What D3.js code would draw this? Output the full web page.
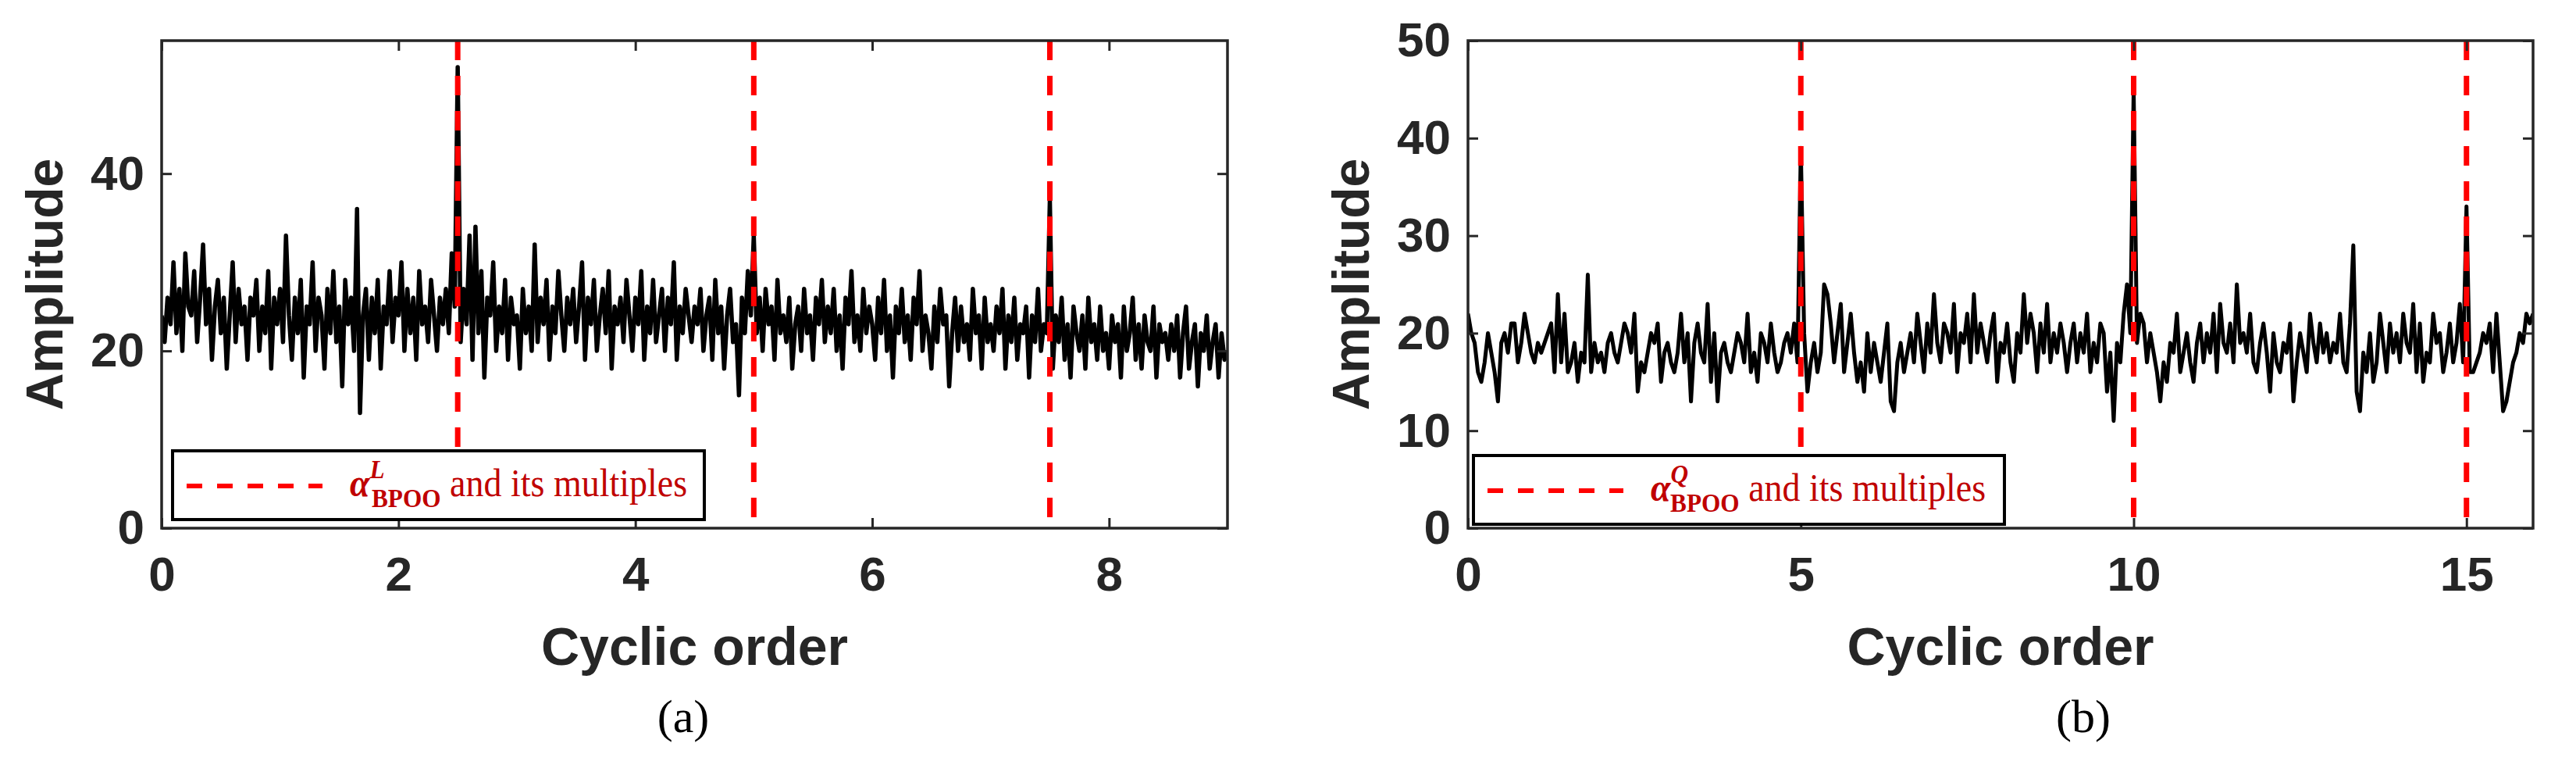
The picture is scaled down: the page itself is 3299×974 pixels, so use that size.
<!DOCTYPE html>
<html><head><meta charset="utf-8">
<script src="https://cdn.jsdelivr.net/npm/d3@7"></script>
<style>body{margin:0;background:#fff}</style></head>
<body><svg id="c" width="3299" height="974"></svg>
<script>
// Panel (a): cyclic order 0..9, step 0.025
const xMaxA = 9;
const valuesA = [
24,21,26,23,30,22,27,20,31,25,24,29,21,26,32,23,27,19,25,28,
22,26,18,24,30,21,27,23,25,19,26,24,28,20,25,22,29,18,26,23,
27,21,33,24,19,26,22,28,17,25,23,30,20,26,24,18,27,22,29,21,
25,16,28,23,26,20,36,13,24,27,19,26,22,28,18,25,23,29,21,26,
24,30,20,27,22,26,19,29,23,25,21,28,24,20,26,23,27,22,31,25,
52,21,27,23,33,19,34,22,29,17,26,24,30,20,25,22,28,19,26,23,
24,18,27,22,25,20,32,21,26,23,28,19,25,22,29,24,20,26,23,27,
21,25,30,19,26,23,28,20,24,27,22,29,18,25,23,26,21,28,24,20,
26,23,29,19,25,22,28,21,24,27,20,26,23,30,19,25,22,27,24,21,
25,23,27,20,24,26,19,28,22,25,18,24,27,21,23,15,26,22,29,24,
33,22,26,20,27,23,25,19,28,22,24,21,26,18,23,25,20,27,22,24,
19,26,23,28,21,25,22,27,20,24,18,26,23,29,21,24,20,27,22,25,
23,19,26,22,28,20,24,17,25,22,27,21,24,19,26,23,29,20,24,22,
18,25,21,27,23,24,16,22,26,20,25,21,23,19,27,22,24,18,26,21,
23,20,25,22,27,18,24,21,26,19,23,22,25,17,24,21,27,20,23,22,
37,18,24,21,26,19,23,17,25,22,20,24,18,26,21,23,19,25,20,22,
18,24,21,23,17,25,20,22,26,19,23,18,24,21,20,25,17,23,21,22,
19,23,20,24,17,22,25,18,21,23,16,22,20,24,18,21,23,17,22,19,
20];
const xTicksA = [0,2,4,6,8];
const yTicksA = [0,20,40];
const yMaxA = 55;
const markersA = [2.5,5,7.5];

// Panel (b): cyclic order 0..16, step 0.05
const xMaxB = 16;
const valuesB = [
22,20,19,16,15,17,20,18,16,13,19,20,18,21,21,17,19,22,20,18,
17,19,18,19,20,21,16,24,17,22,16,17,19,15,18,17,26,16,19,17,
18,16,19,20,18,17,19,21,20,18,22,14,17,16,18,20,19,21,15,18,
19,17,16,18,22,17,20,13,19,21,18,17,23,15,20,13,18,19,17,16,
18,20,19,17,22,16,18,15,20,19,17,21,18,16,17,19,20,18,21,17,
39,20,14,17,19,16,18,25,24,21,17,20,23,16,19,22,18,15,17,14,
20,16,19,17,15,18,21,13,12,17,19,16,18,20,17,22,19,16,21,18,
24,19,17,21,20,18,23,16,20,19,22,17,24,18,21,19,17,20,22,15,
19,18,21,17,15,20,18,24,19,22,20,16,21,18,23,17,20,18,21,19,
16,19,21,17,20,18,22,16,19,17,21,20,14,18,11,19,17,22,25,20,
45,19,22,21,17,20,18,16,13,17,15,19,18,22,16,18,20,17,15,19,
21,17,20,18,22,16,23,19,18,21,17,25,19,20,18,22,17,16,19,21,
18,14,20,17,16,19,18,21,13,17,20,18,16,22,19,17,21,18,20,17,
19,18,22,17,16,21,29,14,12,18,16,20,15,17,22,19,16,21,18,20,
17,22,19,18,23,16,21,15,18,17,22,19,20,16,18,21,17,19,23,17,
33,16,16,17,18,20,19,21,16,22,17,12,13,15,17,18,20,19,22,21,
22];
const xTicksB = [0,5,10,15];
const yTicksB = [0,10,20,30,40,50];
const yMaxB = 50;
const markersB = [5,10,15];

const svg = d3.select("#c");
const axisCol = "#262626";

function panel(o){
  const g = svg.append("g");
  const x = d3.scaleLinear().domain([0,o.xMax]).range([o.x0,o.x1]);
  const y = d3.scaleLinear().domain([0,o.yMax]).range([676,52]);
  const n = o.values.length;
  const pts = o.values.map((v,i)=>[i*o.xMax/(n-1), v]);
  const cid = "clip"+o.id;
  svg.append("clipPath").attr("id",cid).append("rect")
    .attr("x",o.x0).attr("y",52).attr("width",o.x1-o.x0).attr("height",624);
  g.append("path").datum(pts).attr("clip-path",`url(#${cid})`)
    .attr("d",d3.line().x(d=>x(d[0])).y(d=>y(d[1])))
    .attr("fill","none").attr("stroke","#000").attr("stroke-width",o.lw).attr("stroke-linejoin","round");
  g.selectAll(".mk").data(o.markers).join("line")
    .attr("x1",d=>x(d)).attr("x2",d=>x(d)).attr("y1",52).attr("y2",676)
    .attr("stroke","#ff0000").attr("stroke-width",7).attr("stroke-dasharray","25,20");
  const tl = 13;
  const ax = (sel)=>sel.call(s=>s.selectAll("text").attr("font-family","Liberation Sans, Arial").attr("font-weight","bold").attr("font-size",62).attr("fill",axisCol))
    .call(s=>s.selectAll("line").attr("stroke",axisCol).attr("stroke-width",3))
    .call(s=>s.select(".domain").remove());
  g.append("g").attr("transform","translate(0,676)")
    .call(d3.axisBottom(x).tickValues(o.xTicks).tickSize(-tl).tickPadding(36).tickFormat(d3.format("d"))).call(ax);
  g.append("g").attr("transform","translate(0,52)")
    .call(d3.axisTop(x).tickValues(o.xTicks).tickSize(-tl).tickFormat("")).call(ax);
  g.append("g").attr("transform",`translate(${o.x0},0)`)
    .call(d3.axisLeft(y).tickValues(o.yTicks).tickSize(-tl).tickPadding(22).tickFormat(d3.format("d"))).call(ax);
  g.append("g").attr("transform",`translate(${o.x1},0)`)
    .call(d3.axisRight(y).tickValues(o.yTicks).tickSize(-tl).tickFormat("")).call(ax);
  g.append("rect").attr("x",o.x0).attr("y",52).attr("width",o.x1-o.x0).attr("height",624)
    .attr("fill","none").attr("stroke",axisCol).attr("stroke-width",3.5);
  g.append("text").attr("x",(o.x0+o.x1)/2).attr("y",851).attr("text-anchor","middle")
    .attr("font-family","Liberation Sans, Arial").attr("font-weight","bold").attr("font-size",68).attr("fill",axisCol)
    .text("Cyclic order");
  g.append("text").attr("transform",`translate(${o.ylx},364) rotate(-90)`).attr("text-anchor","middle")
    .attr("font-family","Liberation Sans, Arial").attr("font-weight","bold").attr("font-size",66).attr("fill",axisCol)
    .text("Amplitude");
  g.append("text").attr("x",o.capX).attr("y",937).attr("text-anchor","middle")
    .attr("font-family","Liberation Serif, Times New Roman").attr("font-size",60).attr("fill","#000")
    .text(o.cap);
  const L = o.leg;
  g.append("rect").attr("x",L.x).attr("y",L.y).attr("width",L.w).attr("height",88)
    .attr("fill","#fff").attr("stroke","#000").attr("stroke-width",4);
  g.append("line").attr("x1",L.x+18).attr("x2",L.x+192).attr("y1",L.y+45).attr("y2",L.y+45)
    .attr("stroke","#ff0000").attr("stroke-width",6).attr("stroke-dasharray","20,19");
  const tx = L.x+227;
  const t = g.append("text").attr("x",0).attr("y",0)
    .attr("transform",`translate(${tx},${L.y+58}) scale(0.92,1)`)
    .attr("font-family","Liberation Serif, Times New Roman").attr("font-size",50).attr("fill","#c00000");
  t.append("tspan").attr("font-style","italic").attr("font-weight","bold").text("α");
  t.append("tspan").attr("font-style","italic").attr("font-weight","bold").attr("font-size",34).attr("dy",-23).text(o.sup);
  t.append("tspan").attr("font-weight","bold").attr("font-size",34).attr("dx",o.sup==="L"?-18:-25).attr("dy",37).text("BPOO");
  t.append("tspan").attr("dy",-14).text(" and its multiples");
}

panel({id:"a",x0:207,x1:1572,xMax:xMaxA,yMax:yMaxA,values:valuesA,xTicks:xTicksA,yTicks:yTicksA,markers:markersA,lw:5.5,
  ylx:80,capX:875,cap:"(a)",sup:"L",leg:{x:221,y:577,w:681}});
panel({id:"b",x0:1880,x1:3244,xMax:xMaxB,yMax:yMaxB,values:valuesB,xTicks:xTicksB,yTicks:yTicksB,markers:markersB,lw:5,
  ylx:1753,capX:2668,cap:"(b)",sup:"Q",leg:{x:1887,y:583,w:680}});
</script></body></html>
